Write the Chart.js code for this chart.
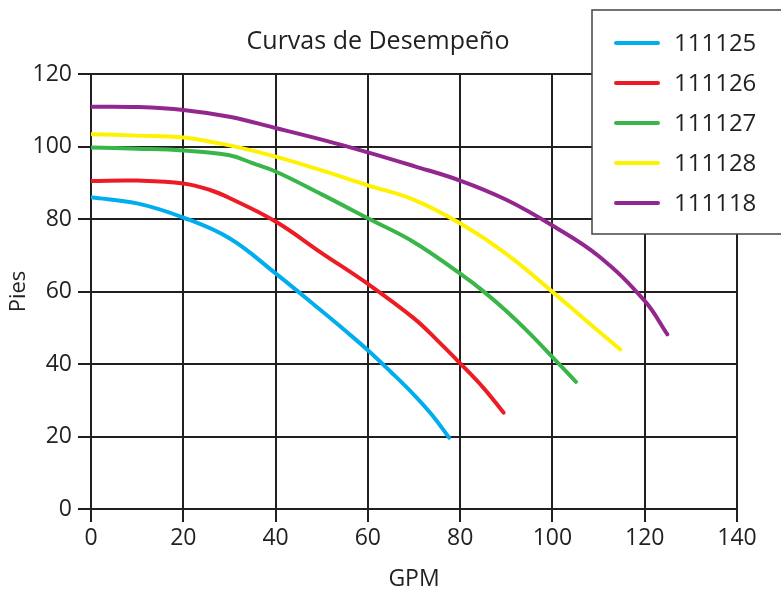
<!DOCTYPE html>
<html>
<head>
<meta charset="utf-8">
<script src="https://cdn.jsdelivr.net/npm/chart.js@4/dist/chart.umd.min.js"></script>
<style>
  html, body { margin: 0; padding: 0; background: #fff; }
  #wrap { width: 781px; height: 593px; }
</style>
</head>
<body>
<div id="wrap"><canvas id="chart"></canvas></div>
<script>
// series names
var modelos = ["111125", "111126", "111127", "111128", "111118"];
var colores = ["#00aeef", "#ed1c24", "#39b54a", "#fff200", "#92278f"];

// GPM / Pies
var gpm125 = [0, 10, 20, 30, 40, 50, 55, 60, 65, 70, 74, 77.6];
var pies125 = [86, 84.3, 80.4, 74.7, 65, 54.6, 49.3, 43.8, 37.8, 31.5, 25.8, 19.7];

var gpm126 = [0, 10, 20, 25.8, 30, 40, 50, 60, 70, 75, 80, 85, 89.4];
var pies126 = [90.5, 90.6, 89.8, 88, 85.8, 79.3, 70.6, 62.1, 52.6, 46.6, 40.2, 33.5, 26.6];

var gpm127 = [0, 10, 20, 30, 35, 40, 50, 60, 70, 80, 85, 90, 95, 100, 105.1];
var pies127 = [99.7, 99.4, 98.9, 97.6, 95.4, 93.1, 86.8, 80.2, 73.6, 64.9, 60.1, 54.6, 48.5, 41.9, 35.1];

var gpm128 = [0, 10, 20, 30, 40, 50, 60, 70, 80, 90, 100, 107, 114.7];
var pies128 = [103.4, 103, 102.5, 100.3, 97.2, 93.4, 89.3, 85.3, 78.8, 70.4, 59.9, 52.3, 44];

var gpm118 = [0, 10, 20, 30, 40, 50, 60, 70, 80, 90, 100, 110, 120, 124.9];
var pies118 = [111, 110.9, 110.1, 108.2, 105.1, 101.9, 98.4, 94.6, 90.6, 85.3, 78.2, 69.8, 57.4, 48.2];

var xTicks = [0, 20, 40, 60, 80, 100, 120, 140];
var yTicks = [0, 20, 40, 60, 80, 100, 120];

var FONT = "'Open Sans', 'Noto Sans', sans-serif";
var INK = "#231f20";

function pares(xs, ys) {
    var out = [];
    for (var i = 0; i < xs.length; i++) out.push({x: xs[i], y: ys[i]});
    return out;
}

var curvas = [
    pares(gpm125, pies125),
    pares(gpm126, pies126),
    pares(gpm127, pies127),
    pares(gpm128, pies128),
    pares(gpm118, pies118)
];

var datasets = modelos.map(function(m, i) {
    return {
        label: m,
        data: curvas[i],
        borderColor: colores[i],
        backgroundColor: colores[i],
        borderWidth: 4,
        borderCapStyle: 'round',
        borderJoinStyle: 'round',
        pointRadius: 0,
        tension: 0.4,
        fill: false
    };
});

// title + boxed legend drawn on top of the grid
var extras = {
    id: 'extras',
    afterDraw: function(chart) {
        var ctx = chart.ctx;
        ctx.save();
        ctx.fillStyle = INK;
        ctx.font = "25px " + FONT;
        ctx.textAlign = 'center';
        ctx.textBaseline = 'alphabetic';
        ctx.fillText("Curvas de Desempeño", 378, 49);

        ctx.fillStyle = '#fff';
        ctx.fillRect(592, 10, 200, 224);
        ctx.strokeStyle = '#444';
        ctx.lineWidth = 1.5;
        ctx.strokeRect(592, 10, 200, 224);

        chart.data.datasets.forEach(function(ds, i) {
            var y = 43 + i * 40;
            ctx.strokeStyle = ds.borderColor;
            ctx.lineWidth = 4;
            ctx.lineCap = 'round';
            ctx.beginPath();
            ctx.moveTo(616, y);
            ctx.lineTo(658, y);
            ctx.stroke();
            ctx.fillStyle = INK;
            ctx.font = "24px " + FONT;
            ctx.textAlign = 'left';
            ctx.textBaseline = 'middle';
            ctx.fillText(ds.label, 674, y + 1);
        });
        ctx.restore();
    }
};

new Chart(document.getElementById('chart'), {
    type: 'line',
    data: { datasets: datasets },
    options: {
        responsive: true,
        maintainAspectRatio: false,
        animation: false,
        layout: { padding: { top: 74, right: 44, left: 0, bottom: 0 } },
        plugins: {
            legend: { display: false },
            title: { display: false },
            tooltip: { enabled: false }
        },
        scales: {
            x: {
                type: 'linear',
                min: 0,
                max: 140,
                afterFit: function(s) { s.height = 84; },
                afterBuildTicks: function(s) { s.ticks = xTicks.map(function(v) { return {value: v}; }); },
                ticks: { color: INK, padding: 3, font: { family: FONT, size: 23 } },
                grid: { color: INK, lineWidth: 2, tickLength: 13, drawTicks: true },
                border: { display: true, color: INK, width: 2 },
                title: {
                    display: true, text: 'GPM', color: INK,
                    font: { family: FONT, size: 23, lineHeight: 1.2 },
                    padding: { top: 0, bottom: 0 }
                }
            },
            y: {
                type: 'linear',
                min: 0,
                max: 120,
                afterFit: function(s) { s.width = 91; },
                afterBuildTicks: function(s) { s.ticks = yTicks.map(function(v) { return {value: v}; }); },
                ticks: { color: INK, padding: 6, font: { family: FONT, size: 23 } },
                grid: { color: INK, lineWidth: 2, tickLength: 13, drawTicks: true },
                border: { display: true, color: INK, width: 2 },
                title: {
                    display: true, text: 'Pies', color: INK,
                    font: { family: FONT, size: 22, lineHeight: 1.2 },
                    padding: { top: 6, bottom: 0 }
                }
            }
        }
    },
    plugins: [extras]
});
</script>
</body>
</html>
